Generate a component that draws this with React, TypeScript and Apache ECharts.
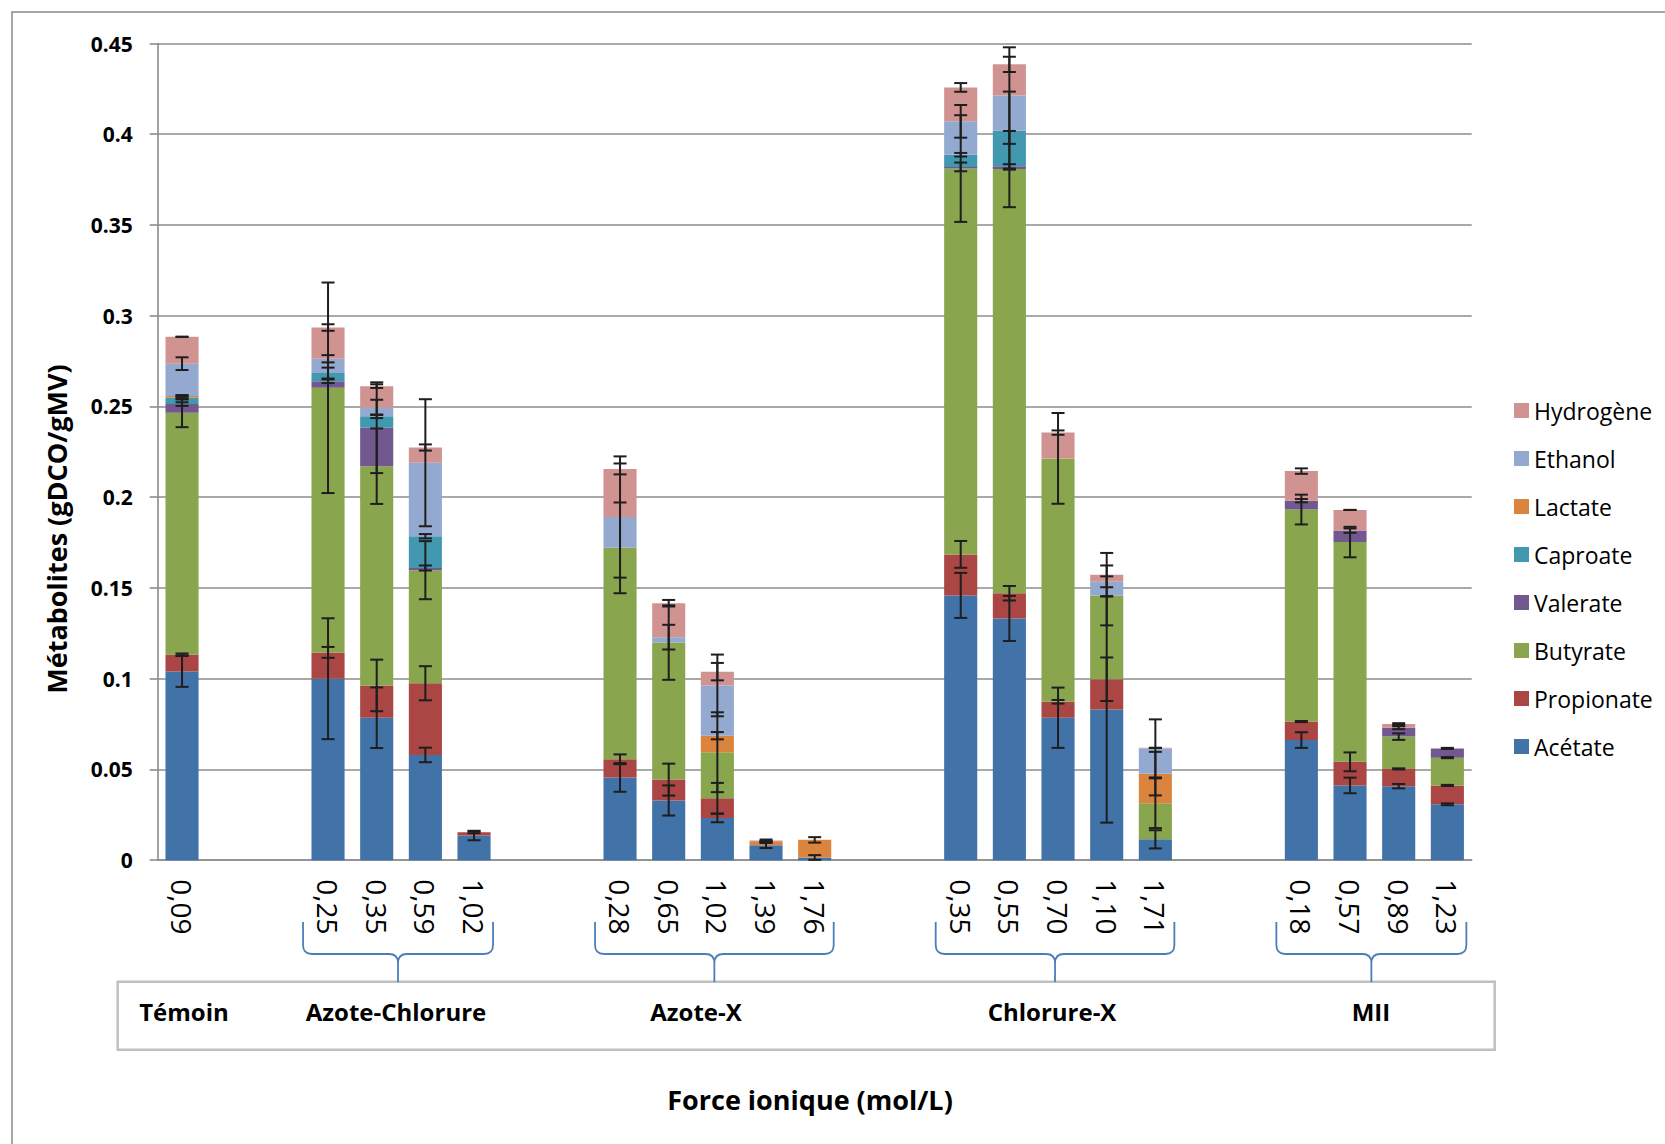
import React, { useEffect, useRef } from 'react';
import * as echarts from 'echarts';

// ---------- DATA ----------
const _ = null;
const xLabels = ['0,09', '', '', '0,25', '0,35', '0,59', '1,02', '', '', '0,28', '0,65', '1,02', '1,39', '1,76', '', '', '0,35', '0,55', '0,70', '1,10', '1,71', '', '', '0,18', '0,57', '0,89', '1,23'];
const seriesNames = ['Acétate', 'Propionate', 'Butyrate', 'Valerate', 'Caproate', 'Lactate', 'Ethanol', 'Hydrogène'];

const acetate = [0.104, _, _, 0.100, 0.0785, 0.058, 0.0136, _, _, 0.0456, 0.0329, 0.0233, 0.0082, 0.0015, _, _, 0.1459, 0.1332, 0.0785, 0.0831, 0.0115, _, _, 0.0662, 0.0412, 0.0408, 0.0308];
const propionate = [0.0094, _, _, 0.0145, 0.0178, 0.0395, 0.0018, _, _, 0.0100, 0.0115, 0.0108, 0, 0, _, _, 0.0226, 0.0139, 0.0088, 0.0166, 0, _, _, 0.0102, 0.0130, 0.0095, 0.0104];
const butyrate = [0.1331, _, _, 0.1458, 0.1208, 0.0623, 0, _, _, 0.1165, 0.0755, 0.0254, 0, 0, _, _, 0.2126, 0.2337, 0.1341, 0.0462, 0.0199, _, _, 0.1168, 0.1211, 0.0178, 0.0153];
const valerate = [0.0048, _, _, 0.0036, 0.0212, 0.0012, 0, _, _, 0, 0, 0, 0, 0, _, _, 0.0009, 0.0015, 0, 0, 0, _, _, 0.0049, 0.0063, 0.0049, 0.0051];
const caproate = [0.0036, _, _, 0.0045, 0.0063, 0.0175, 0, _, _, 0, 0, 0, 0, 0, _, _, 0.0067, 0.0197, 0, 0, 0, _, _, 0, 0, 0, 0];
const lactate = [0.0009, _, _, 0, 0, 0, 0, _, _, 0, 0, 0.0091, 0.0018, 0.0097, _, _, 0, 0, 0, 0, 0.0163, _, _, 0, 0, 0, 0];
const ethanol = [0.0178, _, _, 0.0079, 0.0049, 0.0405, 0, _, _, 0.0170, 0.0030, 0.0277, 0, 0, _, _, 0.0184, 0.0193, 0, 0.0075, 0.0139, _, _, 0, 0, 0, 0];
const hydrogene = [0.0148, _, _, 0.0172, 0.0117, 0.0084, 0, _, _, 0.0265, 0.0187, 0.0076, 0.0009, 0, _, _, 0.0187, 0.0172, 0.0142, 0.0039, 0.0003, _, _, 0.0163, 0.0114, 0.0020, 0];

const acetateErr = [0.0085, _, _, 0.0333, 0.0167, 0.0040, 0.0026, _, _, 0.0079, 0.0083, 0.0024, 0.0015, 0.0013, _, _, 0.0124, 0.0124, 0.0166, 0.0624, 0.0050, _, _, 0.0043, 0.0043, 0.0012, 0.0005];
const propionateErr = [0.0005, _, _, 0.0030, 0.0142, 0.0094, 0.0005, _, _, 0.0027, 0.0088, 0.0085, 0, 0, _, _, 0.0074, 0.0040, 0.0010, 0.0120, 0, _, _, 0.0003, 0.0052, 0.0003, 0.0003];
const butyrateErr = [0.0079, _, _, 0.0580, 0.0208, 0.0160, 0, _, _, 0.0250, 0.0205, 0.0220, 0, 0, _, _, 0.0294, 0.0210, 0.0250, 0.0165, 0.0137, _, _, 0.0082, 0.0084, 0.0018, 0.0003];
const valerateErr = [0.0010, _, _, 0.0010, 0.0250, 0.0014, 0, _, _, 0, 0, 0, 0, 0, _, _, 0.0024, 0.0012, 0, 0, 0, _, _, 0.0009, 0.0012, 0.0008, 0.0003];
const caproateErr = [0.0010, _, _, 0.0030, 0.0010, 0.0012, 0, _, _, 0, 0, 0, 0, 0, _, _, 0.0010, 0.0215, 0, 0, 0, _, _, 0, 0, 0, 0];
const lactateErr = [0.0005, _, _, 0, 0, 0, 0, _, _, 0, 0, 0.0020, 0.0005, 0.0015, _, _, 0, 0, 0, 0, 0.0120, _, _, 0, 0, 0, 0];
const ethanolErr = [0.0035, _, _, 0.0020, 0.0042, 0.0350, 0, _, _, 0.0334, 0.0068, 0.0170, 0, 0, _, _, 0.0090, 0.0266, 0, 0.0030, 0.0160, _, _, 0, 0, 0, 0];
const hydrogeneErr = [0, _, _, 0.0018, 0.0010, 0.0017, 0, _, _, 0.0030, 0.0018, 0.0048, 0.0005, 0, _, _, 0.0024, 0.0042, 0.0012, 0.0120, 0, _, _, 0.0015, 0, 0.0005, 0];

const yTicks = [0, 0.05, 0.1, 0.15, 0.2, 0.25, 0.3, 0.35, 0.4, 0.45];
const groupNames = ['Témoin', 'Azote-Chlorure', 'Azote-X', 'Chlorure-X', 'MII'];
const groupRanges = [[3, 6], [9, 13], [16, 20], [23, 26]]; // category index ranges under each brace
const yTitle = 'Métabolites (gDCO/gMV)';
const xTitle = 'Force ionique (mol/L)';

// ---------- STYLE ----------
const seriesValues = [acetate, propionate, butyrate, valerate, caproate, lactate, ethanol, hydrogene];
const seriesErrors = [acetateErr, propionateErr, butyrateErr, valerateErr, caproateErr, lactateErr, ethanolErr, hydrogeneErr];
const seriesColors = ['#4172A8', '#AA4643', '#89A54E', '#71588F', '#4198AF', '#DB843D', '#93A9CF', '#D19392'];
const groupLabelX = [184, 396, 696, 1052, 1371];
const FONT = '"Open Sans", "Liberation Sans", sans-serif';
const GRID_COLOR = '#8C8C8C';

function buildErrorData() {
  const out: number[][] = [];
  for (let i = 0; i < xLabels.length; i++) {
    let cum = 0;
    for (let s = 0; s < seriesValues.length; s++) {
      const v = seriesValues[s][i];
      if (v == null) continue;
      cum += v;
      if (v > 0) out.push([i, cum, seriesErrors[s][i] ?? 0]);
    }
  }
  return out;
}

export default function App() {
  const ref = useRef<HTMLDivElement>(null);
  useEffect(() => {
    const chart = echarts.init(ref.current!, null, { renderer: 'svg' });
    const barSeries = seriesNames.map((name, s) => ({
      name,
      type: 'bar',
      stack: 'total',
      barWidth: '68%',
      data: seriesValues[s],
      itemStyle: { color: seriesColors[s] },
      emphasis: { disabled: true },
    }));
    const errSeries = {
      name: 'errors',
      type: 'custom',
      z: 5,
      silent: true,
      data: buildErrorData(),
      encode: { x: 0, y: 1 },
      renderItem: (params: any, api: any) => {
        const x = api.value(0);
        const top = api.value(1);
        const e = api.value(2);
        const hi = api.coord([x, top + e]);
        const lo = api.coord([x, top - e]);
        const hw = 6.5;
        const st = { stroke: '#1E1E1E', lineWidth: 2 };
        return {
          type: 'group',
          children: [
            { type: 'line', shape: { x1: hi[0], y1: hi[1], x2: lo[0], y2: lo[1] }, style: st },
            { type: 'line', shape: { x1: hi[0] - hw, y1: hi[1], x2: hi[0] + hw, y2: hi[1] }, style: st },
            { type: 'line', shape: { x1: lo[0] - hw, y1: lo[1], x2: lo[0] + hw, y2: lo[1] }, style: st },
          ],
        };
      },
    };

    chart.setOption({
      animation: false,
      backgroundColor: '#ffffff',
      grid: { left: 157.7, right: 193.3, top: 43.5, bottom: 283.8, containLabel: false },
      legend: {
        orient: 'vertical',
        left: 1509,
        top: 394,
        icon: 'rect',
        itemWidth: 15,
        itemHeight: 15,
        itemGap: 25,
        selectedMode: false,
        data: seriesNames.slice().reverse(),
        itemStyle: { borderWidth: 0 },
        textStyle: { fontFamily: FONT, fontSize: 23, color: '#000', lineHeight: 22 },
      },
      xAxis: {
        type: 'category',
        data: xLabels,
        axisTick: { show: false },
        axisLine: { lineStyle: { color: GRID_COLOR, width: 1.6 } },
        axisLabel: { interval: 0, rotate: -90, margin: 19, fontFamily: FONT, fontSize: 28, color: '#000' },
        splitLine: { show: false },
      },
      yAxis: {
        type: 'value',
        min: yTicks[0],
        max: yTicks[yTicks.length - 1],
        interval: yTicks[1] - yTicks[0],
        axisLine: { show: true, lineStyle: { color: GRID_COLOR, width: 1.6 } },
        axisTick: { show: true, length: 8, lineStyle: { color: GRID_COLOR, width: 1.6 } },
        splitLine: { lineStyle: { color: GRID_COLOR, width: 1.6 } },
        axisLabel: {
          margin: 25,
          fontFamily: FONT,
          fontWeight: 'bold',
          fontSize: 21,
          color: '#000',
          formatter: (v: number) => String(Math.round(v * 100) / 100),
        },
      },
      series: [...barSeries, errSeries],
    });

    // braces from category pixel positions
    const px = (i: number) => chart.convertToPixel({ xAxisIndex: 0 }, i) as number;
    const yT = 922, yH = 954, yB = 982, r = 9;
    const braceEls: any[] = [];
    groupRanges.forEach(([a, b], k) => {
      const L = px(a) - 25;
      const R = px(b) + 19;
      const M = (L + R) / 2;
      const d = `M ${L} ${yT} L ${L} ${yH - r} Q ${L} ${yH} ${L + r} ${yH} L ${M - r} ${yH} Q ${M} ${yH} ${M} ${yH + r} L ${M} ${yB} M ${M} ${yH + r} Q ${M} ${yH} ${M + r} ${yH} L ${R - r} ${yH} Q ${R} ${yH} ${R} ${yH - r} L ${R} ${yT}`;
      const name = 'brace' + k;
      echarts.graphic.registerShape(name, (echarts.graphic as any).extendPath(d, {}));
      braceEls.push({ type: name, x: 0, y: 0, silent: true, style: { stroke: '#4A7EBB', fill: 'none', lineWidth: 1.8 } });
    });

    chart.setOption({
      graphic: [
        { type: 'rect', silent: true, shape: { x: 12, y: 12, width: 1700, height: 1200 }, style: { stroke: '#898989', fill: 'none', lineWidth: 1.5 } },
        { type: 'rect', silent: true, shape: { x: 117.7, y: 981.7, width: 1377, height: 68 }, style: { stroke: '#C0C0C0', fill: '#fff', lineWidth: 2.5 } },
        ...braceEls,
        ...groupNames.map((g, k) => ({
          type: 'text', silent: true, x: groupLabelX[k], y: 1011,
          style: { text: g, fontFamily: FONT, fontWeight: 'bold', fontSize: 24, fill: '#000', align: 'center', verticalAlign: 'middle' },
        })),
        {
          type: 'text', silent: true, x: 56, y: 529, rotation: Math.PI / 2,
          style: { text: yTitle, fontFamily: FONT, fontWeight: 'bold', fontSize: 27, fill: '#000', align: 'center', verticalAlign: 'middle' },
        },
        {
          type: 'text', silent: true, x: 810, y: 1099,
          style: { text: xTitle, fontFamily: FONT, fontWeight: 'bold', fontSize: 27, fill: '#000', align: 'center', verticalAlign: 'middle' },
        },
      ],
    });

    return () => chart.dispose();
  }, []);
  return <div ref={ref} style={{ position: 'fixed', left: 0, top: 0, width: 1665, height: 1144, background: '#fff' }} />;
}
